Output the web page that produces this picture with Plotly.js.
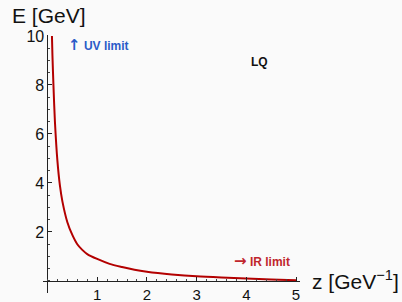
<!DOCTYPE html>
<html><head><meta charset="utf-8">
<script src="https://cdn.plot.ly/plotly-3.0.1.min.js"></script>
<style>html,body{margin:0;padding:0;background:#fafafa;}</style>
</head><body>
<div id="chart" style="width:402px;height:302px;"></div>
<script>
const zValues = [0.09, 0.1, 0.12, 0.15, 0.2, 0.25, 0.3, 0.4, 0.5, 0.6, 0.7, 0.8, 1.0, 1.25, 1.5, 1.75, 2.0, 2.5, 3.0, 3.5, 4.0, 4.5, 5.0];
const eValues = [10, 9.2, 8.0, 6.5, 4.9, 3.9, 3.25, 2.4, 1.88, 1.5, 1.27, 1.1, 0.9, 0.7, 0.57, 0.46, 0.38, 0.27, 0.19, 0.14, 0.1, 0.06, 0.03];
const xTicks = [1, 2, 3, 4, 5];
const yTicks = [2, 4, 6, 8, 10];

const xr = [-0.09, 5.08], yr = [-0.49, 10.04];
const fam = 'Liberation Sans, Arial, sans-serif';
const arrowSpan = s => '<span style="font-family:DejaVu Sans;font-size:15px">' + s + '</span>';

Plotly.newPlot('chart', [{
  x: zValues, y: eValues, type: 'scatter', mode: 'lines',
  line: {color: '#b30000', width: 2, shape: 'spline', smoothing: 0.8},
  hoverinfo: 'skip'
}], {
  width: 402, height: 302,
  margin: {l: 43, r: 102, t: 35, b: 9},
  paper_bgcolor: '#fafafa', plot_bgcolor: '#fafafa',
  showlegend: false,
  font: {family: fam, color: '#111'},
  xaxis: {
    range: xr, anchor: 'free', position: (0 - yr[0]) / (yr[1] - yr[0]),
    showline: true, linecolor: '#222', linewidth: 1,
    showgrid: false, zeroline: false,
    tickmode: 'array', tickvals: xTicks, ticktext: xTicks.map(String),
    ticks: 'inside', ticklen: 4, tickcolor: '#222',
    minor: {dtick: 0.2, tick0: 0, ticks: 'inside', ticklen: 2, tickcolor: '#444', showgrid: false},
    tickfont: {size: 15, family: fam, color: '#111'},
    automargin: false
  },
  yaxis: {
    range: yr, anchor: 'free', position: (0 - xr[0]) / (xr[1] - xr[0]),
    showline: true, linecolor: '#222', linewidth: 1,
    showgrid: false, zeroline: false,
    tickmode: 'array', tickvals: yTicks, ticktext: yTicks.map(String),
    ticks: 'inside', ticklen: 4, tickcolor: '#222',
    minor: {dtick: 0.5, tick0: 0, ticks: 'inside', ticklen: 2, tickcolor: '#444', showgrid: false},
    tickfont: {size: 16, family: fam, color: '#111'},
    automargin: false
  },
  annotations: [
    {xref: 'paper', yref: 'paper', x: -0.128, y: 1.075, text: 'E [GeV]', showarrow: false, xanchor: 'left', yanchor: 'middle', font: {size: 21, family: fam, color: '#111'}},
    {xref: 'paper', yref: 'paper', x: 1.037, y: 0.05, text: 'z [GeV<sup>−1</sup>]', showarrow: false, xanchor: 'left', yanchor: 'middle', font: {size: 21, family: fam, color: '#111'}},
    {xref: 'paper', yref: 'paper', x: 0.09, y: 0.962, text: arrowSpan('↑') + ' UV limit', showarrow: false, xanchor: 'left', yanchor: 'middle', font: {size: 12, family: fam, color: '#2a5bc8', weight: 'bold'}},
    {xref: 'paper', yref: 'paper', x: 0.8, y: 0.895, text: 'LQ', showarrow: false, xanchor: 'left', yanchor: 'middle', font: {size: 12, family: fam, color: '#111', weight: 'bold'}},
    {xref: 'paper', yref: 'paper', x: 0.735, y: 0.125, text: arrowSpan('→') + ' IR limit', showarrow: false, xanchor: 'left', yanchor: 'middle', font: {size: 12, family: fam, color: '#c0262c', weight: 'bold'}}
  ]
}, {staticPlot: true, displayModeBar: false});
</script>
</body></html>
